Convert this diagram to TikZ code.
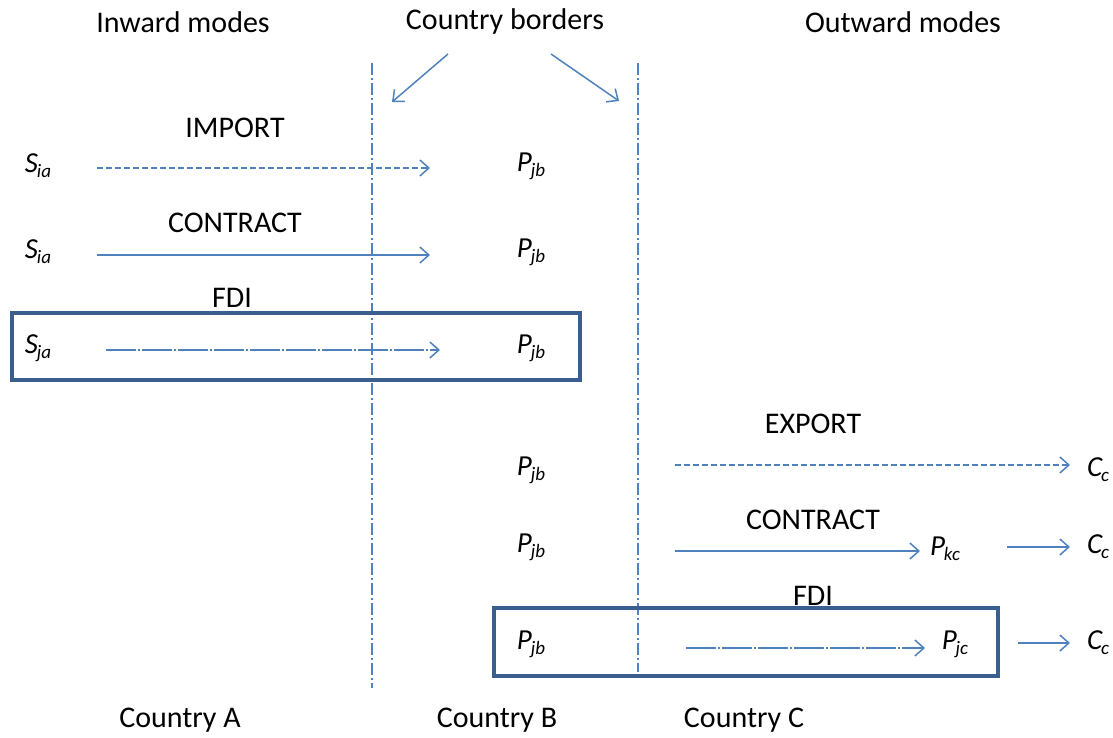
\documentclass[tikz,border=0pt]{standalone}
\usepackage{fontspec}
\setmainfont{Carlito}
\usetikzlibrary{arrows.meta}
\definecolor{lineblue}{HTML}{4F81BD}
\definecolor{boxblue}{HTML}{3A5F8E}
\newcommand{\varlab}[2]{#1\kern-0.04em\raisebox{-0.18em}{\fontsize{19}{20}\selectfont #2}}
\begin{document}
\begin{tikzpicture}[x=1pt,y=-1pt,
 lbl/.style={font=\fontsize{30}{32}\selectfont, inner sep=0pt},
 var/.style={font=\fontsize{29}{30}\selectfont\itshape, inner sep=0pt},
 arr/.style={lineblue, line width=1.5pt, -{Straight Barb[length=9pt,width=16pt]}},
 dasharr/.style={arr, dash pattern=on 6pt off 3pt},
 dotarr/.style={arr, dash pattern=on 30pt off 2pt on 2pt off 2pt},
 borderline/.style={lineblue, line width=1.5pt, dash pattern=on 12pt off 3pt on 2pt off 3pt},
 frame/.style={boxblue, line width=3.5pt}]
\useasboundingbox (0,0) rectangle (1113,738);

% headers
\node[lbl] (inward) at (183,22) {Inward modes};
\node[lbl] (borders) at (505,22) {Country borders};
\node[lbl] (outward) at (903,22) {Outward modes};

% border lines
\coordinate (b1top) at (372,63); \coordinate (b1bot) at (372,688);
\coordinate (b2top) at (638,63); \coordinate (b2bot) at (638,672);
\draw[borderline] (b1top) -- (b1bot);
\draw[borderline] (b2top) -- (b2bot);
\coordinate (pa1) at (448,54); \coordinate (pa1e) at (392,102);
\coordinate (pa2) at (551,54); \coordinate (pa2e) at (619,101);
\draw[arr] (pa1) -- (pa1e);
\draw[arr] (pa2) -- (pa2e);

% frames
\draw[frame] (12,313) rectangle (580,380);
\draw[frame] (494,608) rectangle (998,676);

% inward modes
\node[lbl] (import) at (235,128) {IMPORT};
\node[var] (s1) at (38,166) {\varlab{S}{ia}};
\node[var] (p1) at (531,166) {\varlab{P}{jb}};
\coordinate (a1s) at (97,168); \coordinate (a1e) at (430,168);
\draw[dasharr] (a1s) -- (a1e);

\node[lbl] (contract1) at (235,223) {CONTRACT};
\node[var] (s2) at (38,252) {\varlab{S}{ia}};
\node[var] (p2) at (531,252) {\varlab{P}{jb}};
\coordinate (a2s) at (97,255); \coordinate (a2e) at (430,255);
\draw[arr] (a2s) -- (a2e);

\node[lbl] (fdi1) at (232,298) {FDI};
\node[var] (s3) at (38,348) {\varlab{S}{ja}};
\node[var] (p3) at (531,348) {\varlab{P}{jb}};
\coordinate (a3s) at (106,350); \coordinate (a3e) at (440,350);
\draw[dotarr] (a3s) -- (a3e);

% outward modes
\node[lbl] (export) at (813,424) {EXPORT};
\node[var] (p4) at (531,470) {\varlab{P}{jb}};
\node[var] (c4) at (1098,470) {\varlab{C}{c}};
\coordinate (a4s) at (675,465); \coordinate (a4e) at (1070,465);
\draw[dasharr] (a4s) -- (a4e);

\node[lbl] (contract2) at (813,520) {CONTRACT};
\node[var] (p5) at (531,547) {\varlab{P}{jb}};
\node[var] (k5) at (945,549) {\varlab{P}{kc}};
\node[var] (c5) at (1098,547) {\varlab{C}{c}};
\coordinate (a5s) at (675,551); \coordinate (a5e) at (920,551);
\draw[arr] (a5s) -- (a5e);
\coordinate (a6s) at (1007,547); \coordinate (a6e) at (1070,547);
\draw[arr] (a6s) -- (a6e);

\node[lbl] (fdi2) at (813,596) {FDI};
\node[var] (p6) at (531,644) {\varlab{P}{jb}};
\node[var] (j6) at (955,644) {\varlab{P}{jc}};
\node[var] (c6) at (1098,643) {\varlab{C}{c}};
\coordinate (a7s) at (686,648); \coordinate (a7e) at (925,648);
\draw[dotarr] (a7s) -- (a7e);
\coordinate (a8s) at (1018,643); \coordinate (a8e) at (1070,643);
\draw[arr] (a8s) -- (a8e);

% countries
\node[lbl] (ca) at (180,720) {Country A};
\node[lbl] (cb) at (497,720) {Country B};
\node[lbl] (cc) at (744,720) {Country C};
\end{tikzpicture}
\end{document}
